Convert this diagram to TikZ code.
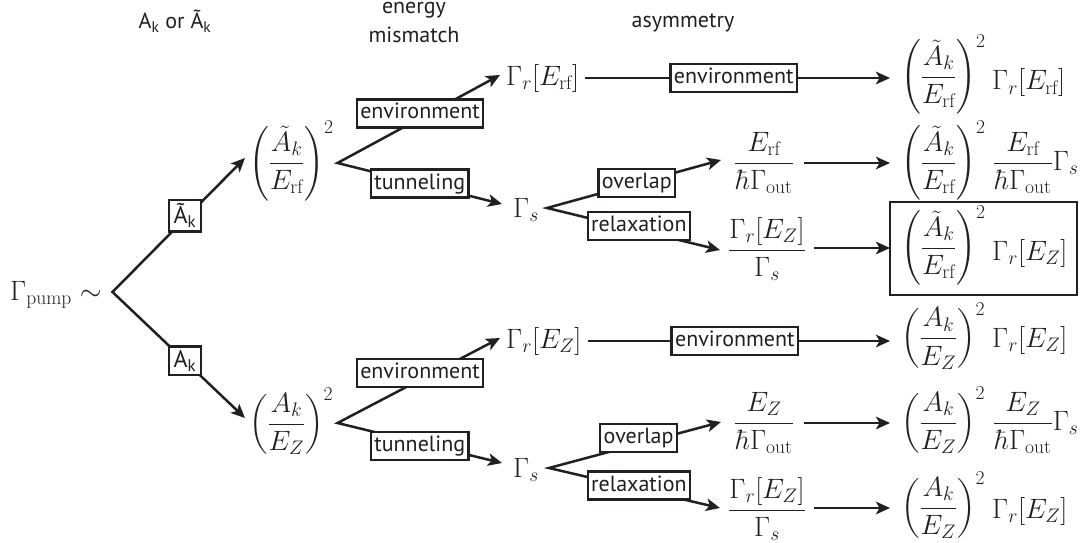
\RequirePackage{fix-cm}
\documentclass[tikz,border=0pt]{standalone}
\usepackage{amsmath}
\usepackage{fontspec}
\newfontfamily\lbl{PT Sans}
\usetikzlibrary{arrows.meta}
\definecolor{ink}{HTML}{231F20}

\begin{document}
\begin{tikzpicture}[x=1pt,y=-1pt,
  every node/.style={inner sep=0pt, text=ink},
  tip/.tip={Stealth[length=14pt,width=12.5pt,inset=3.5pt]},
  arr/.style={draw=ink, line width=2.5pt, line join=miter, -tip},
  vee/.style={draw=ink, line width=2.5pt, line join=miter, tip-tip},
  lbox/.style={draw=ink, fill=white, line width=2.3pt, inner xsep=3.5pt, inner ysep=3.5pt,
    text height=16pt, text depth=5pt, font=\lbl\fontsize{22}{26}\selectfont},
  kbox/.style={draw=ink, fill=white, line width=2.3pt, inner xsep=5pt, inner ysep=4pt,
    font=\lbl\fontsize{24}{28}\selectfont},
  hdr/.style={font=\lbl\fontsize{22}{26}\selectfont},
  m/.style={font=\fontsize{28}{34}\selectfont}]
\useasboundingbox (0,0) rectangle (1088,543);

% column headings
\node[hdr, anchor=base] (hA)  at (175,29) {A\textsubscript{k} or Ã\textsubscript{k}};
\node[hdr, anchor=base] (hE1) at (414,14) {energy};
\node[hdr, anchor=base] (hE2) at (414,43) {mismatch};
\node[hdr, anchor=base] (hS)  at (683,28) {asymmetry};

% root
\node[m, anchor=base west] (pump) at (10,300) {$\Gamma_{\mathrm{pump}}\sim$};
\coordinate (v0) at (112.5,292);

% first level
\node[m, anchor=west] (fU) at (249,163.5)
  {$\displaystyle\left(\frac{\tilde{A}_k}{E_{\mathrm{rf}}}\right)^{\smash{2}}$};
\node[m, anchor=west] (fL) at (249,424)
  {$\displaystyle\left(\frac{A_k}{E_Z}\right)^{\smash{2}}$};
\coordinate (vU) at (337.5,163);
\coordinate (vL) at (337.5,423);

\draw[vee] ([shift={(-4,-5.5)}]fU.west)
  -- node[kbox, pos=0.453, yshift=3pt] {Ã\textsubscript{k}} (v0)
  -- node[kbox, pos=0.547] {A\textsubscript{k}} ([shift={(-4,-6)}]fL.west);

% second level
\node[m, anchor=base west] (gU) at (506,85) {$\Gamma_r[E_{\mathrm{rf}}]$};
\node[m, anchor=base west] (sU) at (513,217) {$\Gamma_s$};
\node[m, anchor=base west] (gL) at (506,348) {$\Gamma_r[E_Z]$};
\node[m, anchor=base west] (sL) at (513,477) {$\Gamma_s$};
\coordinate (wU) at (547,208);
\coordinate (wL) at (549,468);

\draw[vee] ([shift={(-6,-10)}]gU.base west)
  -- node[lbox, pos=0.492, yshift=4.8pt] {environment} (vU)
  -- node[lbox, pos=0.5] {tunneling} ([shift={(-11,-13)}]sU.base west);
\draw[vee] ([shift={(-6,-10)}]gL.base west)
  -- node[lbox, pos=0.492, yshift=6.5pt] {environment} (vL)
  -- node[lbox, pos=0.5, yshift=-3pt] {tunneling} ([shift={(-11,-14)}]sL.base west);

% third level
\node[m, anchor=base] (oU) at (764,170) {$\displaystyle\frac{E_{\mathrm{rf}}}{\hbar\Gamma_{\mathrm{out}}}$};
\node[m, anchor=base] (qU) at (767,257) {$\displaystyle\frac{\Gamma_r[E_Z]}{\Gamma_s}$};
\node[m, anchor=base] (oL) at (764,430) {$\displaystyle\frac{E_Z}{\hbar\Gamma_{\mathrm{out}}}$};
\node[m, anchor=base] (qL) at (767,517) {$\displaystyle\frac{\Gamma_r[E_Z]}{\Gamma_s}$};

\draw[vee] ([shift={(-43,-10)}]oU.base)
  -- node[lbox, pos=0.484] {overlap} (wU)
  -- node[lbox, pos=0.531, yshift=4pt] {relaxation} ([shift={(-47,-7)}]qU.base);
\draw[vee] ([shift={(-43,-8)}]oL.base)
  -- node[lbox, pos=0.479, yshift=6pt] {overlap} (wL)
  -- node[lbox, pos=0.526, yshift=3.5pt] {relaxation} ([shift={(-47,-9)}]qL.base);

% results
\node[m, anchor=west] (r1) at (901,77)
  {$\displaystyle\left(\frac{\tilde{A}_k}{E_{\mathrm{rf}}}\right)^{\smash{2}}$};
\node[m, anchor=west] (r2) at (901,163)
  {$\displaystyle\left(\frac{\tilde{A}_k}{E_{\mathrm{rf}}}\right)^{\smash{2}}$};
\node[m, anchor=west] (r3) at (901,248)
  {$\displaystyle\left(\frac{\tilde{A}_k}{E_{\mathrm{rf}}}\right)^{\smash{2}}$};
\node[m, anchor=west] (r4) at (901,338.5)
  {$\displaystyle\left(\frac{A_k}{E_Z}\right)^{\smash{2}}$};
\node[m, anchor=west] (r5) at (901,423)
  {$\displaystyle\left(\frac{A_k}{E_Z}\right)^{\smash{2}}$};
\node[m, anchor=west] (r6) at (901,508)
  {$\displaystyle\left(\frac{A_k}{E_Z}\right)^{\smash{2}}$};

\node[m, anchor=base west] (r1g) at (992,90) {$\Gamma_r[E_{\mathrm{rf}}]$};
\node[m, anchor=base west] (r2g) at (993,170) {$\displaystyle\frac{E_{\mathrm{rf}}}{\hbar\Gamma_{\mathrm{out}}}\Gamma_s$};
\node[m, anchor=base west] (r3g) at (992,260) {$\Gamma_r[E_Z]$};
\node[m, anchor=base west] (r4g) at (992,347) {$\Gamma_r[E_Z]$};
\node[m, anchor=base west] (r5g) at (993,430) {$\displaystyle\frac{E_Z}{\hbar\Gamma_{\mathrm{out}}}\Gamma_s$};
\node[m, anchor=base west] (r6g) at (992,518) {$\Gamma_r[E_Z]$};

\node[draw=ink, line width=2.6pt, minimum width=187pt, minimum height=93pt] (r3box) at (983.5,248.5) {};

% horizontal arrows into the results
\draw[arr, shorten <=6pt, shorten >=11pt] (gU.east) -- node[lbox, pos=0.48] {environment} (gU.east -| r1.west);
\draw[arr, shorten <=10pt, shorten >=11pt] (r2.west -| oU.east) -- (r2.west);
\draw[arr, shorten <=8pt, shorten >=11pt] (r3.west -| qU.east) -- (r3.west);
\draw[arr, shorten <=6pt, shorten >=11pt] (gL.east) -- node[lbox, pos=0.48] {environment} (gL.east -| r4.west);
\draw[arr, shorten <=10pt, shorten >=11pt] (r5.west -| oL.east) -- (r5.west);
\draw[arr, shorten <=8pt, shorten >=11pt] (r6.west -| qL.east) -- (r6.west);
\end{tikzpicture}
\end{document}
